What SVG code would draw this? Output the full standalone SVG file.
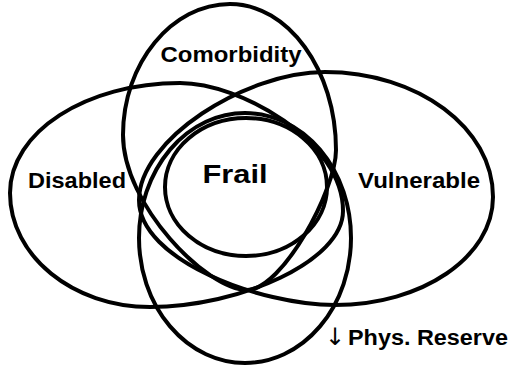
<svg xmlns="http://www.w3.org/2000/svg" width="513" height="365" viewBox="0 0 513 365">
<style>
.e{fill:none;stroke:#000;stroke-width:4}
.t{font-family:"Liberation Sans",Arial,sans-serif;font-weight:bold;fill:#000}
.a{font-family:"DejaVu Sans",sans-serif;font-weight:normal}
</style>
<rect width="513" height="365" fill="#fff"/>
<g id="connectors"></g>
<g id="disabled"><path class="e" d="M10 193C10 132 86 83 180 83C240 83 343 141 343 211C343 261 240 307 150 307C73 307 10 256 10 193Z"/><text class="t" x="77" y="188" font-size="22" text-anchor="middle" textLength="98" lengthAdjust="spacingAndGlyphs">Disabled</text></g>
<g id="vulnerable"><path class="e" d="M139 200C139 140 245 72 325 72C418 72 493 128 493 197C493 257 422 305 335 305C260 305 139 260 139 200Z"/><text class="t" x="419" y="188" font-size="22" text-anchor="middle" textLength="122" lengthAdjust="spacingAndGlyphs">Vulnerable</text></g>
<g id="comorbidity"><path class="e" d="M230 4C288 4 336 70 336 150C336 190 282 290 247 290C207 290 123 205 123 135C123 63 172 4 230 4Z"/><text class="t" x="231" y="62" font-size="22" text-anchor="middle" textLength="141" lengthAdjust="spacingAndGlyphs">Comorbidity</text></g>
<g id="reserve"><ellipse class="e" cx="245" cy="238" rx="106" ry="125"/><text class="t" x="325" y="345" font-size="22"><tspan class="a" font-size="24">↓</tspan><tspan x="348" textLength="160" lengthAdjust="spacingAndGlyphs">Phys. Reserve</tspan></text></g>
<g id="frail"><ellipse class="e" cx="246" cy="187" rx="81" ry="69"/><text class="t" x="235" y="183" font-size="25" text-anchor="middle" textLength="65" lengthAdjust="spacingAndGlyphs">Frail</text></g>
</svg>
